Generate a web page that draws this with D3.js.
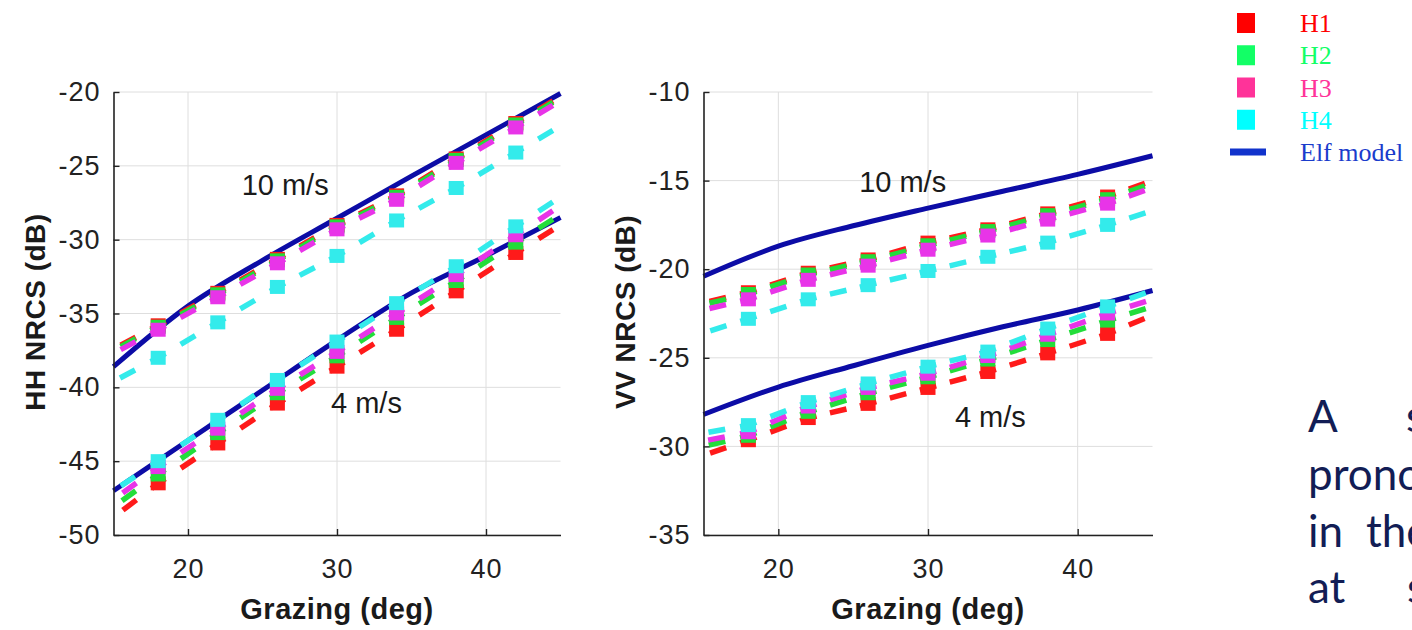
<!DOCTYPE html>
<html><head><meta charset="utf-8">
<script src="https://cdn.jsdelivr.net/npm/d3@7"></script>
<style>body{margin:0;background:#fff}svg{display:block}</style>
</head><body>
<svg id="c" width="1412" height="630"></svg>
<script>
// ---------------- data ----------------
const angles = [15, 18, 22, 26, 30, 34, 38, 42, 45];
const markerAngles = [18, 22, 26, 30, 34, 38, 42];
const modelAngles = [15, 20, 25, 30, 35, 40, 45];
const seriesNames = ["H1", "H2", "H3", "H4"];
const xTicks = [20, 30, 40];
const hhTicks = [-50, -45, -40, -35, -30, -25, -20];
const vvTicks = [-35, -30, -25, -20, -15, -10];

// HH, 10 m/s
const hh10_H1 = [-37.4, -35.8, -33.6, -31.3, -29.0, -27.0, -24.5, -22.1, -20.3];
const hh10_H2 = [-37.5, -35.9, -33.7, -31.4, -29.1, -27.1, -24.6, -22.2, -20.4];
const hh10_H3 = [-37.7, -36.1, -33.9, -31.6, -29.3, -27.3, -24.8, -22.4, -20.6];
const hh10_H4 = [-39.6, -38.0, -35.6, -33.2, -31.1, -28.7, -26.5, -24.1, -22.3];
// HH, 4 m/s
const hh4_H1 = [-48.8, -46.5, -43.8, -41.1, -38.6, -36.1, -33.5, -30.9, -29.0];
const hh4_H2 = [-48.1, -45.9, -43.1, -40.4, -37.9, -35.3, -32.8, -30.2, -28.3];
const hh4_H3 = [-47.6, -45.4, -42.8, -40.1, -37.6, -35.0, -32.4, -29.7, -27.7];
const hh4_H4 = [-47.0, -45.0, -42.2, -39.5, -36.9, -34.3, -31.8, -29.1, -27.1];
// HH Elf model
const hhModel10 = [-38.6, -34.5, -31.4, -28.55, -25.7, -22.9, -20.1];
const hhModel4 = [-47.0, -43.6, -40.2, -36.8, -33.6, -31.1, -28.5];

// VV, 10 m/s
const vv10_H1 = [-21.9, -21.3, -20.2, -19.45, -18.5, -17.75, -16.85, -15.9, -15.0];
const vv10_H2 = [-22.0, -21.4, -20.3, -19.55, -18.65, -17.85, -16.95, -16.05, -15.15];
const vv10_H3 = [-22.3, -21.7, -20.6, -19.8, -18.9, -18.1, -17.2, -16.3, -15.4];
const vv10_H4 = [-23.6, -22.8, -21.7, -20.9, -20.1, -19.3, -18.5, -17.5, -16.7];
// VV, 4 m/s
const vv4_H1 = [-30.5, -29.65, -28.4, -27.6, -26.7, -25.8, -24.75, -23.65, -22.6];
const vv4_H2 = [-30.0, -29.4, -28.05, -27.0, -26.1, -25.1, -24.0, -22.9, -22.1];
const vv4_H3 = [-29.7, -29.2, -27.75, -26.7, -25.9, -24.9, -23.7, -22.5, -21.7];
const vv4_H4 = [-29.25, -28.8, -27.5, -26.45, -25.5, -24.65, -23.35, -22.1, -21.2];
// VV Elf model
const vvModel10 = [-20.4, -18.7, -17.55, -16.55, -15.6, -14.65, -13.6];
const vvModel4 = [-28.2, -26.65, -25.45, -24.3, -23.25, -22.3, -21.2];

const legendLabels = ["H1", "H2", "H3", "H4", "Elf model"];
const slideLines = [["A", "s"], ["pronounced"], ["in", "the"], ["at", "s"]];

// ---------------- styling ----------------
const plotColors = {H1: "#ff1a1a", H2: "#22dd3a", H3: "#e834e8", H4: "#33ebeb"};
const legendColors = {H1: "#ff0000", H2: "#12ff66", H3: "#ff3399", H4: "#00ffff"};
const modelColor = "#0c0ca6";
const axisFont = "'Liberation Sans', Arial, sans-serif";

const svg = d3.select("#c");
svg.append("rect").attr("width", 1412).attr("height", 630).attr("fill", "#fff");
svg.append("clipPath").attr("id", "pageclip").append("rect").attr("width", 1412).attr("height", 630);

const panels = [
  {xr: [113.5, 560.5], yd: [-50, -20], ticks: hhTicks, ylabel: "HH NRCS (dB)", ylabX: 45,
   speeds: [
     {series: [hh10_H1, hh10_H2, hh10_H3, hh10_H4], model: hhModel10, label: "10 m/s", lx: 23.6, ly: -26.97},
     {series: [hh4_H1, hh4_H2, hh4_H3, hh4_H4], model: hhModel4, label: "4 m/s", lx: 29.6, ly: -41.75}
   ]},
  {xr: [703.5, 1152.5], yd: [-35, -10], ticks: vvTicks, ylabel: "VV NRCS (dB)", ylabX: 635,
   speeds: [
     {series: [vv10_H1, vv10_H2, vv10_H3, vv10_H4], model: vvModel10, label: "10 m/s", lx: 25.4, ly: -15.63},
     {series: [vv4_H1, vv4_H2, vv4_H3, vv4_H4], model: vvModel4, label: "4 m/s", lx: 31.8, ly: -28.9}
   ]}
];

const yTop = 92, yBot = 535;
const DASH = 17;

panels.forEach(p => {
  const x = d3.scaleLinear().domain([15, 45]).range(p.xr);
  const y = d3.scaleLinear().domain(p.yd).range([yBot, yTop]);
  const g = svg.append("g");

  // grid
  g.selectAll(".gx").data(xTicks).join("line")
    .attr("x1", d => x(d)).attr("x2", d => x(d)).attr("y1", yTop).attr("y2", yBot)
    .attr("stroke", "#dedede").attr("stroke-width", 1);
  g.selectAll(".gy").data(p.ticks).join("line")
    .attr("x1", p.xr[0]).attr("x2", p.xr[1]).attr("y1", d => y(d)).attr("y2", d => y(d))
    .attr("stroke", "#dedede").attr("stroke-width", 1);

  // models
  const mline = d3.line().x((d, i) => x(modelAngles[i])).y(d => y(d)).curve(d3.curveMonotoneX);
  p.speeds.forEach(s => {
    g.append("path").attr("d", mline(s.model)).attr("fill", "none")
      .attr("stroke", modelColor).attr("stroke-width", 5);
  });

  // series
  p.speeds.forEach(s => {
    s.series.forEach((vals, si) => {
      const col = plotColors[seriesNames[si]];
      const pts = angles.map((a, i) => [x(a), y(vals[i])]);
      const segLen = (a, b) => Math.hypot(b[0] - a[0], b[1] - a[1]);
      for (let i = 0; i < pts.length - 1; i++) {
        let a = pts[i], b = pts[i + 1], ref;
        if (i === 0) { a = pts[1]; b = pts[0]; ref = segLen(pts[1], pts[2]); }
        else if (i === pts.length - 2) { ref = segLen(pts[i - 1], pts[i]); }
        else { ref = segLen(a, b); }
        const P = ref / 2;
        g.append("line").attr("x1", a[0]).attr("y1", a[1]).attr("x2", b[0]).attr("y2", b[1])
          .attr("stroke", col).attr("stroke-width", 5.5)
          .attr("stroke-dasharray", `${DASH} ${P - DASH}`)
          .attr("stroke-dashoffset", DASH / 2);
      }
      g.selectAll(null).data(angles.map((a, i) => ({a, v: vals[i]})).filter(d => markerAngles.includes(d.a)))
        .join("rect")
        .attr("x", d => x(d.a) - 7.5).attr("y", d => y(d.v) - 7)
        .attr("width", 15).attr("height", 14).attr("fill", col);
    });
  });

  // speed labels
  p.speeds.forEach(s => {
    g.append("text").attr("x", x(s.lx)).attr("y", y(s.ly)).text(s.label)
      .attr("font-family", axisFont).attr("font-size", 29).attr("fill", "#1a1a1a");
  });

  // axes
  const ax = g.append("g").attr("transform", `translate(0,${yBot})`)
    .call(d3.axisBottom(x).tickValues(xTicks).tickSize(-6).tickSizeOuter(0).tickPadding(24).tickFormat(d3.format("d")));
  const ay = g.append("g").attr("transform", `translate(${p.xr[0]},0)`)
    .call(d3.axisLeft(y).tickValues(p.ticks).tickSize(-6).tickSizeOuter(0).tickPadding(13).tickFormat(d => d3.format("d")(d).replace("−", "-")));
  [ax, ay].forEach(a => {
    a.select(".domain").attr("stroke", "#222").attr("stroke-width", 1.6);
    a.selectAll(".tick line").attr("stroke", "#222").attr("stroke-width", 1.4);
    a.selectAll("text").attr("font-family", axisFont).attr("font-size", 27)
      .attr("letter-spacing", 1).attr("fill", "#222");
  });

  // axis titles
  g.append("text").attr("x", (p.xr[0] + p.xr[1]) / 2).attr("y", 619).attr("text-anchor", "middle")
    .attr("font-family", axisFont).attr("font-weight", "bold").attr("font-size", 29)
    .attr("letter-spacing", 0.5).attr("fill", "#1a1a1a")
    .text("Grazing (deg)");
  g.append("text").attr("transform", `translate(${p.ylabX},312) rotate(-90)`).attr("text-anchor", "middle")
    .attr("font-family", axisFont).attr("font-weight", "bold").attr("font-size", 28)
    .attr("letter-spacing", 0.5).attr("fill", "#1a1a1a")
    .text(p.ylabel);
});

// legend
const leg = svg.append("g");
const legY = d3.scalePoint().domain(legendLabels).range([23, 152]);
legendLabels.forEach((lab, i) => {
  const cy = legY(lab);
  if (i < 4) {
    leg.append("rect").attr("x", 1237).attr("y", cy - 10).attr("width", 18).attr("height", 20)
      .attr("fill", legendColors[lab]);
  } else {
    leg.append("rect").attr("x", 1230).attr("y", cy - 3.5).attr("width", 36).attr("height", 7)
      .attr("fill", "#1133cc");
  }
  leg.append("text").attr("x", 1300).attr("y", cy + 9).text(lab)
    .attr("font-family", "'Liberation Serif', 'Times New Roman', serif").attr("font-size", 26)
    .attr("fill", i < 4 ? legendColors[lab] : "#1a3ccc");
});

// slide text (cut off at the right page edge, as in the source slide)
const slide = svg.append("g").attr("clip-path", "url(#pageclip)")
  .attr("font-family", "Lato, 'Open Sans', sans-serif")
  .attr("font-size", 44).attr("fill", "#121d55");
const baselines = [432, 490, 547, 603];
const wordX = [[1308, 1406], [1308], [1308, 1366], [1308, 1407]];
slideLines.forEach((words, li) => {
  words.forEach((w, wi) => {
    slide.append("text").attr("x", wordX[li][wi]).attr("y", baselines[li]).text(w);
  });
});
</script>
</body></html>
